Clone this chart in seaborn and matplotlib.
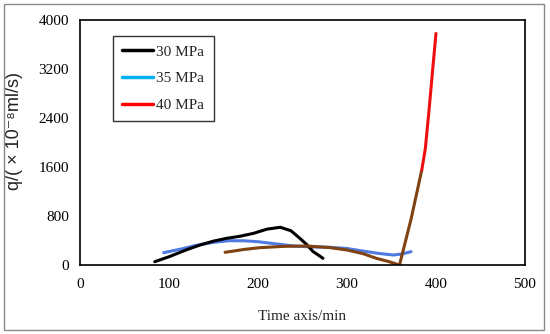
import matplotlib
matplotlib.use('Agg')
import matplotlib.pyplot as plt
from matplotlib.lines import Line2D
from matplotlib.patches import Rectangle
import seaborn as sns
import pandas as pd

# 30 MPa
t_30 = [84, 100, 120, 135, 150, 165, 180, 195, 210, 225, 237, 247, 255, 262, 268, 273]
q_30 = [54, 135, 250, 327, 390, 436, 470, 517, 585, 616, 560, 436, 330, 218, 160, 109]

# 35 MPa
t_35 = [94, 115, 130, 150, 168, 185, 200, 220, 240, 260, 280, 300, 315, 335, 352, 362, 372]
q_35 = [201, 265, 320, 370, 397, 395, 380, 345, 310, 295, 290, 270, 234, 190, 163, 180, 218]

# 40 MPa (lower part drawn brown as in the source figure, upper part red)
t_40 = [163, 185, 202, 230, 255, 280, 300, 318, 333, 347, 359, 372, 384, 388, 392, 396, 400]
q_40 = [207, 255, 283, 305, 310, 285, 245, 185, 109, 55, 0, 750, 1550, 1900, 2500, 3150, 3780]
split_40 = 12  # index where the line turns red

labels = ["30 MPa", "35 MPa", "40 MPa"]
legend_colors = ["black", "#00b0f0", "#ff0000"]

sns.set_style("white")
plt.rcParams['font.family'] = ['Liberation Serif', 'DejaVu Serif']

fig = plt.figure(figsize=(5.5, 3.34), dpi=100)
ax = fig.add_axes([80 / 550, 1 - 265 / 334, 445 / 550, 245 / 334])

df30 = pd.DataFrame({"t": t_30, "q": q_30})
df35 = pd.DataFrame({"t": t_35, "q": q_35})
df40a = pd.DataFrame({"t": t_40[:split_40 + 1], "q": q_40[:split_40 + 1]})
df40b = pd.DataFrame({"t": t_40[split_40:], "q": q_40[split_40:]})

lw = 2.2
sns.lineplot(data=df35, x="t", y="q", sort=False, estimator=None, color="#4f7ae2", lw=lw, ax=ax)
sns.lineplot(data=df30, x="t", y="q", sort=False, estimator=None, color="black", lw=lw, ax=ax)
sns.lineplot(data=df40a, x="t", y="q", sort=False, estimator=None, color="#7f4210", lw=lw, ax=ax)
sns.lineplot(data=df40b, x="t", y="q", sort=False, estimator=None, color="#ee1010", lw=lw, ax=ax)

ax.set_xlim(0, 500)
ax.set_ylim(0, 4000)
ax.set_xticks([0, 100, 200, 300, 400, 500])
ax.set_yticks([0, 800, 1600, 2400, 3200, 4000])
ax.tick_params(axis='both', direction='in', length=4, width=1, labelsize=11, pad=8,
               colors='black')
ax.tick_params(axis='x', pad=9)
for s in ax.spines.values():
    s.set_color('black')
    s.set_linewidth(1.2)

ax.set_xlabel("Time axis/min", fontsize=11, labelpad=14)
ax.set_ylabel("q/( × 10⁻⁸ml/s)", fontsize=13, color='#222222',
              family=['Liberation Sans', 'DejaVu Sans'])
ax.yaxis.set_label_coords(-0.128, 0.547)

handles = [Line2D([0], [0], color=c, lw=2.5) for c in legend_colors]
leg = ax.legend(handles, labels, loc='upper left', bbox_to_anchor=(0.074, 0.935),
                fontsize=11, frameon=True, fancybox=False, handlelength=2.0,
                handletextpad=0.25, labelspacing=0.85, borderpad=0.6, borderaxespad=0)
leg.get_frame().set_edgecolor('black')
leg.get_frame().set_linewidth(1.0)

# outer frame of the figure
fig.patches.append(Rectangle((4 / 550, 4 / 334), 540 / 550, 326 / 334, transform=fig.transFigure,
                             fill=False, edgecolor='#888888', lw=1.0))

fig.savefig("out.png", dpi=100)
